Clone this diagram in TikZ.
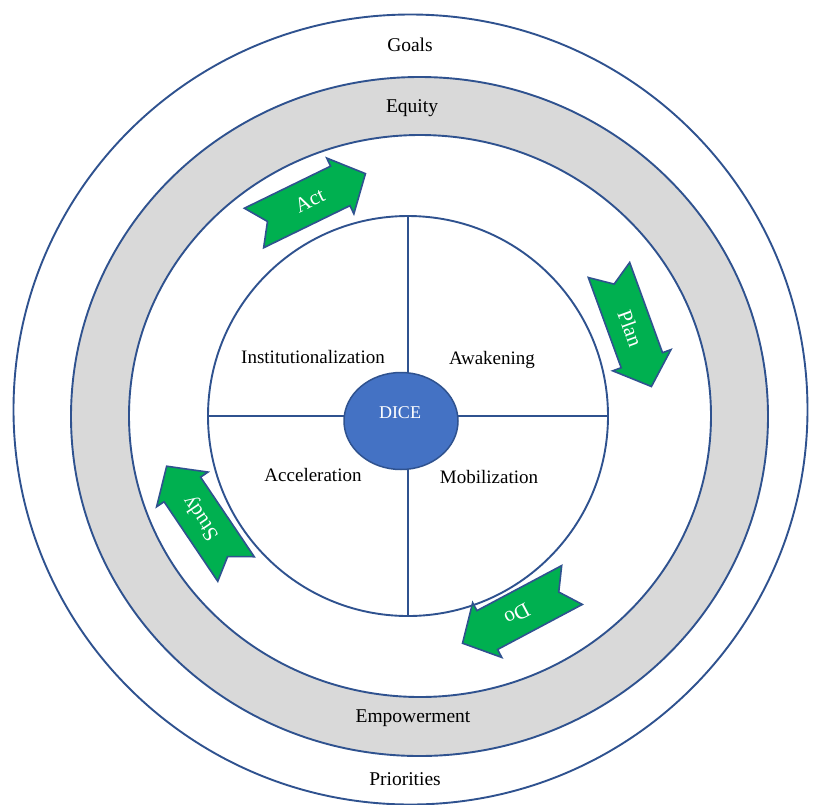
\documentclass[tikz,border=0pt]{standalone}
\usepackage{fontspec}
\setmainfont{Liberation Serif}
\usepackage{tikz}
\usetikzlibrary{shapes.geometric}

\definecolor{ringblue}{RGB}{47,82,143}
\definecolor{ringgray}{RGB}{217,217,217}
\definecolor{cyclegreen}{RGB}{0,176,80}
\definecolor{diceblue}{RGB}{68,114,196}

\tikzset{ring style/.style={
		draw=ringblue,
		line width=1.9pt,
	},
	band style/.style={
		draw=ringblue,
		line width=1.9pt,
		fill=ringgray,
	},
	ring label/.style={
		text=black,
		font=\fontsize{19.5}{22}\selectfont,
		inner sep=0pt,
	},
	phase label/.style={
		text=black,
		font=\fontsize{19}{22}\selectfont,
		inner sep=0pt,
	},
	core style/.style={
		draw=ringblue,
		line width=1.5pt,
		fill=diceblue,
		ellipse,
		minimum width=114pt,
		minimum height=97pt,
		inner sep=0pt,
	},
	cycle arrow/.style={
		draw=ringblue,
		line width=1.6pt,
		fill=cyclegreen,
		line join=miter,
	},
	arrow text/.style={
		text=white,
		font=\fontsize{21}{24}\selectfont,
		inner sep=0pt,
	}
}

% notched block arrow: name, tail point, angle, label
\newcommand{\cyclearrow}[4]{%
	\begin{scope}[shift={#2}, rotate=#3]
		\draw[cycle arrow] (0,22) -- (96,22) -- (96,31) -- (124,0) -- (96,-31)
			-- (96,-22) -- (0,-22) -- (15,0) -- cycle;
		\node[arrow text, rotate=#3] (#1) at (62,0) {#4};
	\end{scope}}

\begin{document}
\begin{tikzpicture}[x=1pt,y=-1pt]
	\useasboundingbox (0,0) rectangle (814,804);

	% rings
	\draw[ring style, fill=white] (410.5,409.5) ellipse [x radius=397, y radius=395];
	\draw[band style] (419.5,416.5) ellipse [x radius=348.5, y radius=339.5];
	\draw[ring style, fill=white] (420,416) ellipse [x radius=291, y radius=281];

	% inner wheel
	\draw[ring style] (408,416) circle [radius=200];
	\draw[ring style] (408,216) -- (408,616);
	\draw[ring style] (208,416) -- (608,416);
	\node[core style] (dice) at (401,421) {};
	\node[arrow text, font=\fontsize{18}{20}\selectfont] (dicetext) at (400,413) {DICE};

	\node[phase label] (institution) at (313,357) {Institutionalization};
	\node[phase label] (awakening) at (492,360) {Awakening};
	\node[phase label] (acceleration) at (313,475) {Acceleration};
	\node[phase label] (mobilization) at (489,477) {Mobilization};

	% ring labels
	\node[ring label] (goals) at (410,45) {Goals};
	\node[ring label] (equity) at (412,108) {Equity};
	\node[ring label] (empowerment) at (413,718) {Empowerment};
	\node[ring label] (priorities) at (405,779) {Priorities};

	% PDSA cycle
	\cyclearrow{act}{(254,228)}{26}{Act}
	\cyclearrow{plan}{(609,270)}{-70}{Plan}
	\cyclearrow{do}{(572,585)}{208}{Do}
	\cyclearrow{study}{(236,569)}{124}{Study}
\end{tikzpicture}
\end{document}
